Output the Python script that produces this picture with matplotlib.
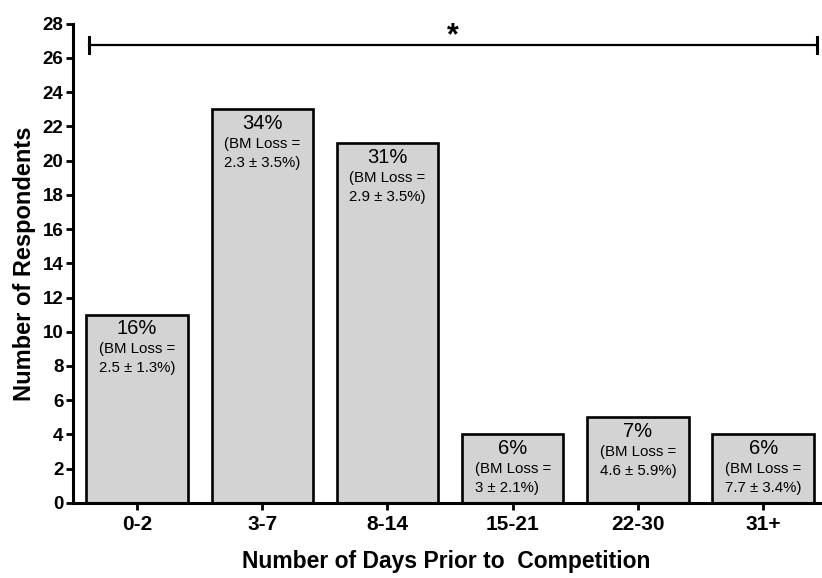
import matplotlib
matplotlib.use("Agg")
import matplotlib.pyplot as plt

plt.rcParams["font.family"] = ["Liberation Sans", "DejaVu Sans"]

days = ["0-2", "3-7", "8-14", "15-21", "22-30", "31+"]
respondents = [11, 23, 21, 4, 5, 4]
percents = ["16%", "34%", "31%", "6%", "7%", "6%"]
bm_loss = ["2.5 ± 1.3%", "2.3 ± 3.5%", "2.9 ± 3.5%", "3 ± 2.1%", "4.6 ± 5.9%", "7.7 ± 3.4%"]

fig = plt.figure(figsize=(8.22, 5.78), dpi=100, facecolor="white")
ax = fig.add_axes([0.089, 0.130, 0.908, 0.829])

x = list(range(len(days)))
ax.bar(x, respondents, width=0.81, color="#d3d3d3", edgecolor="black", linewidth=1.9, zorder=2)

for xi, n, pct, loss in zip(x, respondents, percents, bm_loss):
    ax.annotate(pct, (xi, n), xytext=(0, -14), textcoords="offset pixels",
                ha="center", va="center", fontsize=14.5)
    ax.annotate(f"(BM Loss =\n{loss})", (xi, n), xytext=(0, -44), textcoords="offset pixels",
                ha="center", va="center", multialignment="left", fontsize=10.8, linespacing=1.5)

# significance bracket across all groups
lo, hi, yb = -0.38, 5.43, 26.75
ax.plot([lo, hi], [yb, yb], color="black", lw=1.6, zorder=3)
ax.plot([lo, lo], [yb - 0.45, yb + 0.45], color="black", lw=2.2, zorder=3)
ax.plot([hi, hi], [yb - 0.45, yb + 0.45], color="black", lw=2.2, zorder=3)
ax.text(2.52, 27.25, "*", ha="center", va="center", fontsize=22, fontweight="bold")

ax.set_xlim(-0.51, 5.45)
ax.set_ylim(0, 28)
ax.set_xticks(x)
ax.set_xticklabels(days, fontsize=15, fontweight="bold")
ax.set_yticks(range(0, 29, 2))
ax.set_yticklabels([str(v) for v in range(0, 29, 2)], fontsize=13.5, fontweight="bold")
ax.tick_params(axis="both", direction="out", length=5, width=2, pad=2)
ax.tick_params(axis="x", pad=4)

for side in ("top", "right"):
    ax.spines[side].set_visible(False)
for side in ("left", "bottom"):
    ax.spines[side].set_linewidth(2.2)

ax.set_ylabel("Number of Respondents", fontsize=17, fontweight="bold", labelpad=5)
ax.set_xlabel("Number of Days Prior to  Competition", fontsize=16.5, fontweight="bold", labelpad=11)

fig.savefig("out.png", dpi=100)
